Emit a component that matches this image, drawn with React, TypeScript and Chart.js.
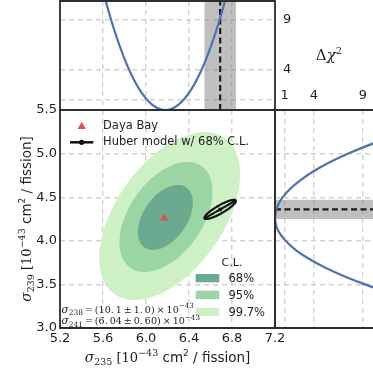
import React, { useEffect, useRef } from 'react';
import { Chart, registerables } from 'chart.js';

Chart.register(...registerables);

const WIDTH = 373;
const HEIGHT = 374;

// ---------- axes ----------
const sigma235Ticks = [5.2, 5.6, 6.0, 6.4, 6.8, 7.2];
const sigma239Ticks = [3.0, 3.5, 4.0, 4.5, 5.0, 5.5];
const chi2Ticks = [1, 4, 9];
const chi2TopLabels = ['', '4', '9'];
const chi2RightLabels = ['1', '4', '9'];

// ---------- Daya Bay best fit ----------
const dayaBay235 = 6.17;
const dayaBay239 = 4.26;

// ---------- Daya Bay confidence contours ----------
const clLabels = ['68%', '95%', '99.7%'];
const clCenter235 = [6.18, 6.186, 6.22];
const clCenter239 = [4.268, 4.273, 4.284];
const clHalfWidth235 = [0.256, 0.433, 0.655];
const clHalfHeight239 = [0.373, 0.631, 0.963];
const clCorrelation = [0.45, 0.46, 0.5];

// ---------- Huber model ----------
const huber235 = 6.69;
const huber239 = 4.36;
const huberErr235 = 0.146;
const huberErr239 = 0.11;
const huberCorrelation = 0.88;

// ---------- Delta chi2 profiles ----------
const profile235 = [5.58, 5.65, 5.72, 5.79, 5.86, 5.93, 6.0, 6.06, 6.12, 6.18, 6.24, 6.3, 6.36, 6.43, 6.5, 6.57, 6.64, 6.71, 6.78];
const profile235Chi2 = [12.76, 9.95, 7.5, 5.39, 3.63, 2.21, 1.15, 0.51, 0.13, 0.0, 0.13, 0.51, 1.15, 2.21, 3.63, 5.39, 7.5, 9.95, 12.76];
const profile239 = [3.4, 3.5, 3.6, 3.7, 3.8, 3.9, 4.0, 4.1, 4.18, 4.26, 4.34, 4.42, 4.5, 4.6, 4.7, 4.8, 4.9, 5.0, 5.1, 5.2];
const profile239Chi2 = [11.83, 9.24, 6.97, 5.02, 3.39, 2.07, 1.08, 0.41, 0.1, 0.0, 0.09, 0.35, 0.79, 1.59, 2.66, 4.0, 5.62, 7.51, 9.68, 12.12];

// ---------- texts ----------
const legendDayaBay = 'Daya Bay';
const legendHuber = 'Huber model w/ 68% C.L.';
const clTitle = 'C.L.';
const annotationIsotopes = ['238', '241'];
const annotationValues = ['\u2009=\u2009(10.\u20091\u2009\u00b1\u20091.\u20090)\u2009\u00d7\u200910', '\u2009=\u2009(6.\u200904\u2009\u00b1\u20090.\u200960)\u2009\u00d7\u200910'];
const annotationExponent = '\u221243';

// ---------- styles ----------
const SANS = '"DejaVu Sans", sans-serif';
const SERIF = '"DejaVu Serif", serif';
const CL_COLORS = ['rgb(108,170,144)', 'rgb(155,213,164)', 'rgb(205,240,197)'];
const BLUE = '#4c72b0';
const RED = '#e0514e';
const GRID = '#d2d2d2';
const SPINE = '#2e2e2e';
const TEXT = '#1e1e1e';
const BAND = 'rgba(128,128,128,0.5)';

type Run = { t: string; f: string; dy?: number };

function runsWidth(ctx: CanvasRenderingContext2D, runs: Run[]) {
  let w = 0;
  runs.forEach((r) => {
    ctx.font = r.f;
    w += ctx.measureText(r.t).width;
  });
  return w;
}

function drawRuns(ctx: CanvasRenderingContext2D, runs: Run[], x0: number, baseline: number) {
  let x = x0;
  ctx.textAlign = 'left';
  ctx.textBaseline = 'alphabetic';
  runs.forEach((r) => {
    ctx.font = r.f;
    ctx.fillText(r.t, x, baseline + (r.dy || 0));
    x += ctx.measureText(r.t).width;
  });
}

function axisTitleRuns(sub: string): Run[] {
  return [
    { t: '\u03c3', f: `italic 14px ${SERIF}` },
    { t: sub, f: `9.5px ${SERIF}`, dy: 3 },
    { t: ' [', f: `13px ${SERIF}` },
    { t: '10', f: `13px ${SERIF}` },
    { t: '\u221243', f: `9.5px ${SERIF}`, dy: -6 },
    { t: ' cm', f: `13.5px ${SANS}` },
    { t: '2', f: `9px ${SANS}`, dy: -6 },
    { t: ' / fission]', f: `13.5px ${SANS}` },
  ];
}

function ellipsePoints(cx: number, cy: number, sx: number, sy: number, rho: number, n = 200) {
  const pts: { x: number; y: number }[] = [];
  const k = Math.sqrt(1 - rho * rho);
  for (let i = 0; i <= n; i++) {
    const t = (i / n) * 2 * Math.PI;
    pts.push({ x: cx + sx * Math.cos(t), y: cy + sy * (rho * Math.cos(t) + k * Math.sin(t)) });
  }
  return pts;
}

function drawSpines(chart: any, sides: { l: boolean; t: boolean; r: boolean; b: boolean }) {
  const { ctx, chartArea: a } = chart;
  ctx.save();
  ctx.strokeStyle = SPINE;
  ctx.lineWidth = 1.8;
  ctx.lineCap = 'square';
  ctx.beginPath();
  if (sides.l) { ctx.moveTo(a.left, a.top); ctx.lineTo(a.left, a.bottom); }
  if (sides.t) { ctx.moveTo(a.left, a.top); ctx.lineTo(a.right, a.top); }
  if (sides.r) { ctx.moveTo(a.right, a.top); ctx.lineTo(a.right, a.bottom); }
  if (sides.b) { ctx.moveTo(a.left, a.bottom); ctx.lineTo(a.right, a.bottom); }
  ctx.stroke();
  ctx.restore();
}

const gridOpts = { color: GRID, lineWidth: 1.4, drawTicks: false };
const borderOpts = { display: false, dash: [5, 4] };
const tickFont = { family: SANS, size: 13 };

const mainPlugin = {
  id: 'mainDecor',
  beforeDatasetsDraw(chart: any) {
    const { ctx, chartArea: a, scales } = chart;
    const xs = scales.x;
    const ys = scales.y;
    ctx.save();
    ctx.beginPath();
    ctx.rect(a.left, a.top, a.right - a.left, a.bottom - a.top);
    ctx.clip();
    for (let i = clLabels.length - 1; i >= 0; i--) {
      const pts = ellipsePoints(clCenter235[i], clCenter239[i], clHalfWidth235[i], clHalfHeight239[i], clCorrelation[i]);
      ctx.beginPath();
      pts.forEach((p, j) => {
        const px = xs.getPixelForValue(p.x);
        const py = ys.getPixelForValue(p.y);
        if (j) ctx.lineTo(px, py); else ctx.moveTo(px, py);
      });
      ctx.closePath();
      ctx.fillStyle = CL_COLORS[i];
      ctx.fill();
    }
    ctx.restore();
  },
  afterDatasetsDraw(chart: any) {
    const { ctx, chartArea: a, scales } = chart;
    const xs = scales.x;
    const ys = scales.y;
    // Huber ellipse
    const pts = ellipsePoints(huber235, huber239, huberErr235, huberErr239, huberCorrelation).map((p) => ({
      x: xs.getPixelForValue(p.x),
      y: ys.getPixelForValue(p.y),
    }));
    const cx = xs.getPixelForValue(huber235);
    const cy = ys.getPixelForValue(huber239);
    ctx.save();
    ctx.strokeStyle = '#111';
    ctx.lineWidth = 2.2;
    ctx.beginPath();
    pts.forEach((p, j) => (j ? ctx.lineTo(p.x, p.y) : ctx.moveTo(p.x, p.y)));
    ctx.closePath();
    ctx.stroke();
    let far = pts[0];
    let best = 0;
    pts.forEach((p) => {
      const d = (p.x - cx) ** 2 + (p.y - cy) ** 2;
      if (d > best) { best = d; far = p; }
    });
    ctx.beginPath();
    ctx.moveTo(far.x, far.y);
    ctx.lineTo(2 * cx - far.x, 2 * cy - far.y);
    ctx.stroke();
    ctx.fillStyle = '#111';
    ctx.beginPath();
    ctx.arc(cx, cy, 2, 0, Math.PI * 2);
    ctx.fill();
    ctx.restore();

    // top-left legend
    ctx.save();
    const lx = a.left + 21.7;
    const ly = a.top + 16.5;
    const r = 4.8;
    ctx.fillStyle = RED;
    ctx.beginPath();
    for (let k = 0; k < 3; k++) {
      const ang = (k * 2 * Math.PI) / 3;
      const px = lx + Math.sin(ang) * r;
      const py = ly - Math.cos(ang) * r;
      if (k) ctx.lineTo(px, py); else ctx.moveTo(px, py);
    }
    ctx.closePath();
    ctx.fill();
    ctx.fillStyle = TEXT;
    ctx.font = `11.5px ${SANS}`;
    ctx.textAlign = 'left';
    ctx.textBaseline = 'alphabetic';
    ctx.fillText(legendDayaBay, a.left + 43, a.top + 19);
    ctx.fillText(legendHuber, a.left + 43, a.top + 35);
    ctx.strokeStyle = '#111';
    ctx.lineWidth = 2.5;
    ctx.beginPath();
    ctx.moveTo(a.left + 10, a.top + 32.3);
    ctx.lineTo(a.left + 33.3, a.top + 32.3);
    ctx.stroke();
    ctx.fillStyle = '#111';
    ctx.beginPath();
    ctx.arc(a.left + 21.6, a.top + 32.3, 2.6, 0, Math.PI * 2);
    ctx.fill();

    // C.L. legend
    ctx.fillStyle = TEXT;
    ctx.font = `11px ${SANS}`;
    ctx.textAlign = 'center';
    ctx.fillText(clTitle, 232, 265.5);
    ctx.textAlign = 'left';
    ctx.font = `11.5px ${SANS}`;
    const patchTops = [274, 290.7, 307.7];
    const textBase = [281.7, 298.7, 315.7];
    clLabels.forEach((lab, i) => {
      ctx.fillStyle = CL_COLORS[i];
      ctx.fillRect(195.7, patchTops[i], 23.6, 8.3);
      ctx.fillStyle = TEXT;
      ctx.fillText(lab, 228.5, textBase[i]);
    });

    // annotations
    ctx.fillStyle = TEXT;
    const bases = [312.5, 324];
    annotationIsotopes.forEach((iso, i) => {
      drawRuns(
        ctx,
        [
          { t: '\u03c3', f: `italic 10.5px ${SERIF}` },
          { t: iso, f: `7.5px ${SERIF}`, dy: 2.5 },
          { t: annotationValues[i], f: `9.6px ${SERIF}` },
          { t: annotationExponent, f: `7.2px ${SERIF}`, dy: -4.5 },
        ],
        a.left + 1.5,
        bases[i]
      );
    });
    ctx.restore();
  },
  afterDraw(chart: any) {
    const { ctx, chartArea: a } = chart;
    drawSpines(chart, { l: true, t: true, r: true, b: true });
    ctx.save();
    ctx.fillStyle = TEXT;
    const xr = axisTitleRuns('235');
    const xw = runsWidth(ctx, xr);
    drawRuns(ctx, xr, (a.left + a.right) / 2 - xw / 2, 361.5);
    const yr = axisTitleRuns('239');
    const yw = runsWidth(ctx, yr);
    ctx.translate(27, (a.top + a.bottom) / 2);
    ctx.rotate(-Math.PI / 2);
    drawRuns(ctx, yr, -yw / 2, 4);
    ctx.restore();
  },
};

const topPlugin = {
  id: 'topDecor',
  beforeDatasetsDraw(chart: any) {
    const { ctx, chartArea: a, scales } = chart;
    const x1 = scales.x.getPixelForValue(huber235 - huberErr235);
    const x2 = scales.x.getPixelForValue(huber235 + huberErr235);
    ctx.save();
    ctx.fillStyle = BAND;
    ctx.fillRect(x1, a.top, x2 - x1, a.bottom - a.top);
    ctx.restore();
  },
  afterDraw(chart: any) {
    drawSpines(chart, { l: true, t: true, r: true, b: true });
    const { ctx } = chart;
    ctx.save();
    ctx.fillStyle = TEXT;
    const runs: Run[] = [
      { t: '\u0394', f: `15px ${SERIF}` },
      { t: '\u03c7', f: `italic 15px ${SERIF}` },
      { t: '2', f: `10px ${SERIF}`, dy: -6.5 },
    ];
    const w = runsWidth(ctx, runs);
    drawRuns(ctx, runs, 329 - w / 2, 60);
    ctx.restore();
  },
};

const rightPlugin = {
  id: 'rightDecor',
  beforeDatasetsDraw(chart: any) {
    const { ctx, chartArea: a, scales } = chart;
    const y1 = scales.y.getPixelForValue(huber239 + huberErr239);
    const y2 = scales.y.getPixelForValue(huber239 - huberErr239);
    ctx.save();
    ctx.fillStyle = BAND;
    ctx.fillRect(a.left, y1, a.right - a.left, y2 - y1);
    ctx.restore();
  },
  afterDraw(chart: any) {
    drawSpines(chart, { l: true, t: true, r: false, b: true });
  },
};

function makeMain(canvas: HTMLCanvasElement) {
  return new Chart(canvas, {
    type: 'scatter',
    data: {
      datasets: [
        {
          data: [{ x: dayaBay235, y: dayaBay239 }],
          pointStyle: 'triangle',
          pointRadius: 4.8,
          backgroundColor: RED,
          borderWidth: 0,
        },
      ],
    },
    options: {
      animation: false,
      responsive: false,
      maintainAspectRatio: false,
      events: [],
      layout: { padding: { left: 0, top: 110, right: 98, bottom: 0 } },
      plugins: { legend: { display: false }, tooltip: { enabled: false } },
      scales: {
        x: {
          type: 'linear',
          min: 5.2,
          max: 7.2,
          afterBuildTicks: (s: any) => { s.ticks = sigma235Ticks.map((v) => ({ value: v })); },
          afterFit: (s: any) => { s.height = 46; s.paddingLeft = 0; s.paddingRight = 0; },
          ticks: { autoSkip: false, maxRotation: 0, padding: 3, font: tickFont, color: TEXT, callback: (v: any) => Number(v).toFixed(1) },
          grid: gridOpts,
          border: borderOpts,
        },
        y: {
          type: 'linear',
          min: 3.0,
          max: 5.5,
          afterBuildTicks: (s: any) => { s.ticks = sigma239Ticks.map((v) => ({ value: v })); },
          afterFit: (s: any) => { s.width = 60; s.paddingTop = 0; s.paddingBottom = 0; },
          ticks: { autoSkip: false, padding: 3, font: tickFont, color: TEXT, callback: (v: any) => Number(v).toFixed(1) },
          grid: gridOpts,
          border: borderOpts,
        },
      },
    } as any,
    plugins: [mainPlugin],
  });
}

function makeTop(canvas: HTMLCanvasElement) {
  return new Chart(canvas, {
    type: 'scatter',
    data: {
      datasets: [
        {
          data: profile235.map((v, i) => ({ x: v, y: profile235Chi2[i] })),
          showLine: true,
          borderColor: BLUE,
          borderWidth: 2.2,
          pointRadius: 0,
          tension: 0.4,
        },
        {
          data: [{ x: huber235, y: 0 }, { x: huber235, y: 10.9 }],
          showLine: true,
          borderColor: '#1a1a1a',
          borderWidth: 2.2,
          borderDash: [6, 3.5],
          pointRadius: 0,
        },
      ],
    },
    options: {
      animation: false,
      responsive: false,
      maintainAspectRatio: false,
      events: [],
      layout: { padding: { left: 60, top: 1, right: 0, bottom: 264 } },
      plugins: { legend: { display: false }, tooltip: { enabled: false } },
      scales: {
        x: {
          type: 'linear',
          min: 5.2,
          max: 7.2,
          afterBuildTicks: (s: any) => { s.ticks = sigma235Ticks.map((v) => ({ value: v })); },
          afterFit: (s: any) => { s.height = 0; s.paddingLeft = 0; s.paddingRight = 0; },
          ticks: { display: false },
          grid: gridOpts,
          border: borderOpts,
        },
        y: {
          type: 'linear',
          position: 'right',
          min: 0,
          max: 10.9,
          afterBuildTicks: (s: any) => { s.ticks = chi2Ticks.map((v) => ({ value: v })); },
          afterFit: (s: any) => { s.width = 98; s.paddingTop = 0; s.paddingBottom = 0; },
          ticks: { autoSkip: false, padding: 8, font: tickFont, color: TEXT, callback: (v: any) => chi2TopLabels[chi2Ticks.indexOf(Number(v))] },
          grid: gridOpts,
          border: borderOpts,
        },
      },
    } as any,
    plugins: [topPlugin],
  });
}

function makeRight(canvas: HTMLCanvasElement) {
  return new Chart(canvas, {
    type: 'scatter',
    data: {
      datasets: [
        {
          data: profile239.map((v, i) => ({ x: profile239Chi2[i], y: v })),
          showLine: true,
          borderColor: BLUE,
          borderWidth: 2.2,
          pointRadius: 0,
          tension: 0.4,
        },
        {
          data: [{ x: 0, y: huber239 }, { x: 10.05, y: huber239 }],
          showLine: true,
          borderColor: '#1a1a1a',
          borderWidth: 2.2,
          borderDash: [6, 3.5],
          pointRadius: 0,
        },
      ],
    },
    options: {
      animation: false,
      responsive: false,
      maintainAspectRatio: false,
      events: [],
      layout: { padding: { left: 275, top: 88, right: 0, bottom: 46 } },
      plugins: { legend: { display: false }, tooltip: { enabled: false } },
      scales: {
        x: {
          type: 'linear',
          position: 'top',
          min: 0,
          max: 10.05,
          afterBuildTicks: (s: any) => { s.ticks = chi2Ticks.map((v) => ({ value: v })); },
          afterFit: (s: any) => { s.height = 22; s.paddingLeft = 0; s.paddingRight = 0; },
          ticks: { autoSkip: false, maxRotation: 0, padding: 7, font: tickFont, color: TEXT, callback: (v: any) => chi2RightLabels[chi2Ticks.indexOf(Number(v))] },
          grid: gridOpts,
          border: borderOpts,
        },
        y: {
          type: 'linear',
          min: 3.0,
          max: 5.5,
          afterBuildTicks: (s: any) => { s.ticks = sigma239Ticks.map((v) => ({ value: v })); },
          afterFit: (s: any) => { s.width = 0; s.paddingTop = 0; s.paddingBottom = 0; },
          ticks: { display: false },
          grid: gridOpts,
          border: borderOpts,
        },
      },
    } as any,
    plugins: [rightPlugin],
  });
}

export default function App() {
  const mainRef = useRef<HTMLCanvasElement>(null);
  const topRef = useRef<HTMLCanvasElement>(null);
  const rightRef = useRef<HTMLCanvasElement>(null);

  useEffect(() => {
    const charts = [makeMain(mainRef.current!), makeTop(topRef.current!), makeRight(rightRef.current!)];
    return () => charts.forEach((c) => c.destroy());
  }, []);

  const cs: React.CSSProperties = { position: 'absolute', left: 0, top: 0, width: WIDTH, height: HEIGHT };
  return (
    <div style={{ position: 'absolute', left: 0, top: 0, width: WIDTH, height: HEIGHT, overflow: 'hidden', background: '#ffffff' }}>
      <canvas ref={mainRef} width={WIDTH} height={HEIGHT} style={cs} />
      <canvas ref={topRef} width={WIDTH} height={HEIGHT} style={cs} />
      <canvas ref={rightRef} width={WIDTH} height={HEIGHT} style={cs} />
    </div>
  );
}
